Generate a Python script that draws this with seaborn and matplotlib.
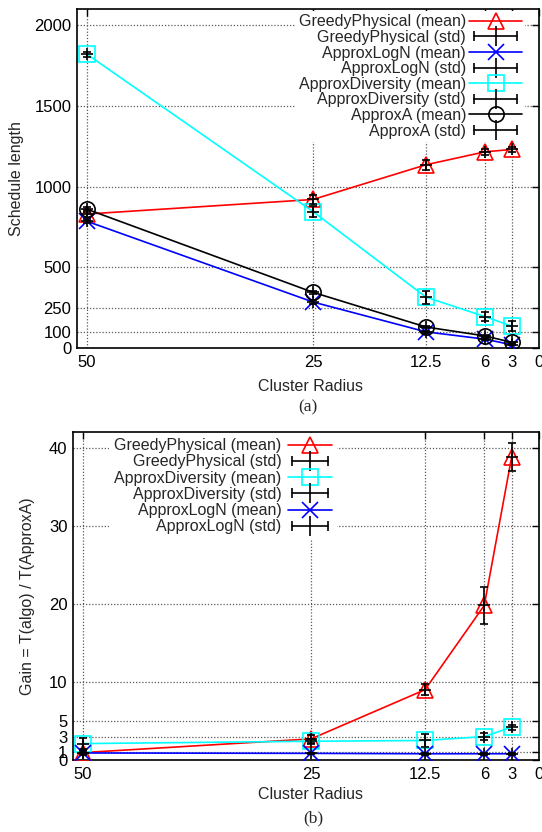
import matplotlib
matplotlib.use("Agg")
import matplotlib.pyplot as plt
import numpy as np
import pandas as pd
import seaborn as sns
from matplotlib.lines import Line2D
from matplotlib.legend_handler import HandlerLine2D, HandlerTuple

# cluster radius (x axis, reversed)
radius = [50, 25, 12.5, 6, 3]
xtick_vals = [50, 25, 12.5, 6, 3, 0]
xtick_labels = ['50', '25', '12.5', '6', '3', '0']

# (a) schedule length
greedy_mean = [830, 920, 1135, 1215, 1230]
greedy_std = [25, 30, 30, 20, 15]
logn_mean = [785, 285, 100, 55, 20]
logn_std = [10, 10, 8, 5, 3]
div_mean = [1820, 845, 315, 195, 135]
div_std = [15, 35, 40, 25, 30]
approxa_mean = [860, 345, 130, 75, 35]
approxa_std = [15, 10, 8, 5, 3]
yticks_a = [0, 100, 250, 500, 1000, 1500, 2000]

# (b) gain = T(algo) / T(ApproxA)
greedy_gain = [0.95, 2.7, 9.0, 19.8, 38.8]
greedy_gain_std = [0.3, 0.5, 0.7, 2.4, 1.8]
div_gain = [2.1, 2.4, 2.5, 3.0, 4.2]
div_gain_std = [0.7, 0.3, 0.8, 0.5, 0.3]
logn_gain = [0.9, 0.85, 0.8, 0.8, 0.8]
logn_gain_std = [0.1, 0.1, 0.1, 0.1, 0.1]
yticks_b = [0, 1, 3, 5, 10, 20, 30, 40]

sns.set_style("white")
plt.rcParams['font.family'] = ['Liberation Sans', 'DejaVu Sans']

FS = 11.5     # legend / axis labels
TFS = 12      # tick labels
W, H = 542, 832
fig = plt.figure(figsize=(W / 100, H / 100), dpi=100)


def px_axes(left, top, right, bottom):
    return fig.add_axes([left / W, 1 - bottom / H, (right - left) / W, (bottom - top) / H])


def draw_series(ax, mean, std, color, marker, ms):
    sns.lineplot(x=radius, y=mean, color=color, marker=marker, markersize=ms,
                 markerfacecolor='none', markeredgecolor=color, markeredgewidth=1.2,
                 linewidth=1.2, ax=ax, zorder=3)
    ax.errorbar(radius, mean, yerr=std, fmt='+', color='k', ms=8, mew=1.2,
                elinewidth=1.2, capsize=3, capthick=1.2, zorder=4)


def mean_handle(color, marker, ms):
    return Line2D([], [], color=color, lw=1.2, marker=marker, ms=ms,
                  mfc='none', mec=color, mew=1.2)


def std_handle(hmap):
    ends = Line2D([], [], color='k', lw=1.2, marker='|', ms=7, mew=1.2)
    mid = Line2D([], [], color='k', ls='none', marker='|', ms=15, mew=1.2)
    hmap[ends] = HandlerLine2D(numpoints=2)
    return (ends, mid)


def style_axes(ax, yticks, ylim):
    ax.set_xlim(51.1, 0)
    ax.set_ylim(*ylim)
    ax.set_xticks(xtick_vals)
    ax.set_xticklabels(xtick_labels)
    ax.set_yticks(yticks)
    ax.grid(True, ls=(0, (1, 1.5)), color='0.35', lw=0.9)
    ax.tick_params(direction='in', length=5, width=1, top=True, right=True,
                   labelsize=TFS, colors='k')
    ax.tick_params(axis='x', pad=5)
    ax.tick_params(axis='y', pad=4)
    for sp in ax.spines.values():
        sp.set_color('k')
        sp.set_linewidth(1.2)


# ---------------- (a) ----------------
ax1 = px_axes(77, 9, 539, 348)
draw_series(ax1, greedy_mean, greedy_std, 'red', '^', 11)
draw_series(ax1, logn_mean, logn_std, 'blue', 'x', 11)
draw_series(ax1, div_mean, div_std, 'cyan', 's', 11)
draw_series(ax1, approxa_mean, approxa_std, 'black', 'o', 11)
style_axes(ax1, yticks_a, (0, 2100))
ax1.set_xlabel('Cluster Radius', fontsize=FS)
ax1.set_ylabel('Schedule length', fontsize=FS)
ax1.xaxis.set_label_coords(0.505, -0.092)
ax1.yaxis.set_label_coords(-0.114, 0.5)

hmap_a = {tuple: HandlerTuple(ndivide=1)}
handles_a = [mean_handle('red', '^', 11), std_handle(hmap_a),
             mean_handle('blue', 'x', 11), std_handle(hmap_a),
             mean_handle('cyan', 's', 11), std_handle(hmap_a),
             mean_handle('black', 'o', 11), std_handle(hmap_a)]
labels_a = ['GreedyPhysical (mean)', 'GreedyPhysical (std)',
            'ApproxLogN (mean)', 'ApproxLogN (std)',
            'ApproxDiversity (mean)', 'ApproxDiversity (std)',
            'ApproxA (mean)', 'ApproxA (std)']
leg = ax1.legend(handles_a, labels_a, handler_map=hmap_a, loc='upper right',
                 bbox_to_anchor=(0.970, 0.994), markerfirst=False, fontsize=FS,
                 frameon=True, facecolor='white', edgecolor='none', framealpha=1,
                 fancybox=False, borderpad=0.2, borderaxespad=0, labelspacing=0.04,
                 handlelength=3.3, handletextpad=0.2)
leg.set_zorder(2.5)

fig.text(308 / W, 1 - 407 / H, '(a)', ha='center', va='center', fontsize=12.5,
         family=['Liberation Serif', 'DejaVu Serif'])

# ---------------- (b) ----------------
ax2 = px_axes(73, 432, 539, 760)
draw_series(ax2, greedy_gain, greedy_gain_std, 'red', '^', 11)
draw_series(ax2, div_gain, div_gain_std, 'cyan', 's', 11)
draw_series(ax2, logn_gain, logn_gain_std, 'blue', 'x', 11)
style_axes(ax2, yticks_b, (0, 42))
ax2.set_xlabel('Cluster Radius', fontsize=FS)
ax2.set_ylabel('Gain = T(algo) / T(ApproxA)', fontsize=FS)
ax2.xaxis.set_label_coords(0.51, -0.083)
ax2.yaxis.set_label_coords(-0.081, 0.5)

hmap_b = {tuple: HandlerTuple(ndivide=1)}
handles_b = [mean_handle('red', '^', 11), std_handle(hmap_b),
             mean_handle('cyan', 's', 11), std_handle(hmap_b),
             mean_handle('blue', 'x', 11), std_handle(hmap_b)]
labels_b = ['GreedyPhysical (mean)', 'GreedyPhysical (std)',
            'ApproxDiversity (mean)', 'ApproxDiversity (std)',
            'ApproxLogN (mean)', 'ApproxLogN (std)']
leg2 = ax2.legend(handles_b, labels_b, handler_map=hmap_b, loc='upper right',
                  bbox_to_anchor=(0.567, 0.996), markerfirst=False, fontsize=FS,
                  frameon=True, facecolor='white', edgecolor='none', framealpha=1,
                  fancybox=False, borderpad=0.3, borderaxespad=0, labelspacing=0.08,
                  handlelength=2.8, handletextpad=0.4)
leg2.set_zorder(10)

fig.text(313 / W, 1 - 818 / H, '(b)', ha='center', va='center', fontsize=12.5,
         family=['Liberation Serif', 'DejaVu Serif'])

fig.savefig('out.png', dpi=100)
